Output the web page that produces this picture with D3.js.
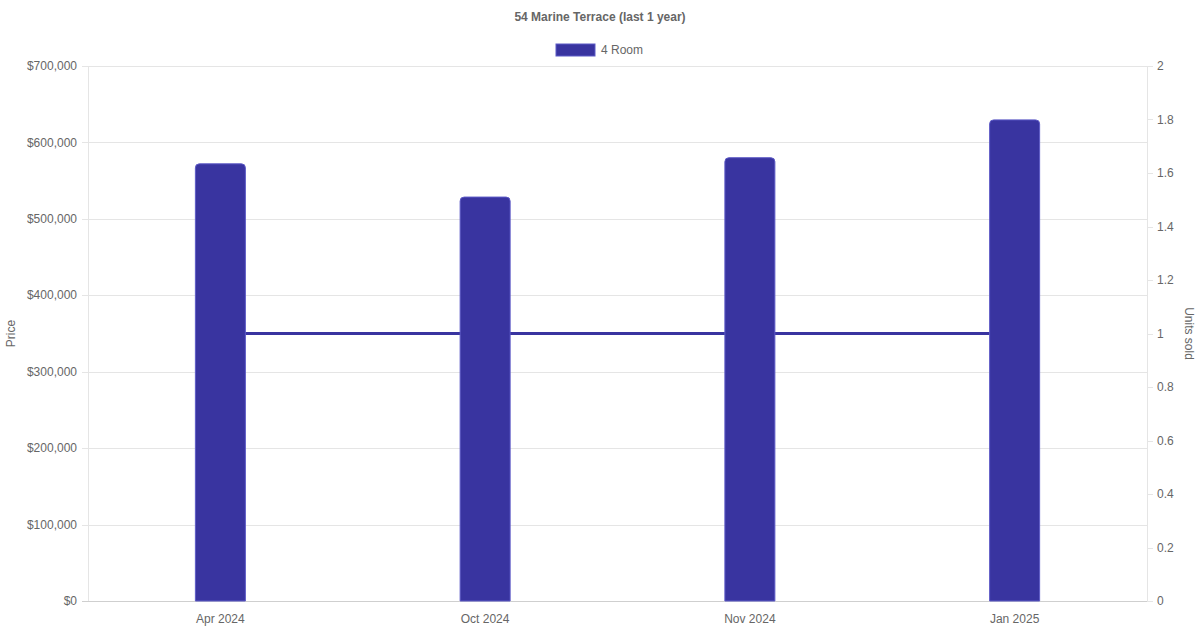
<!DOCTYPE html>
<html><head><meta charset="utf-8">
<script src="https://cdn.jsdelivr.net/npm/d3@7"></script>
<style>body{margin:0;background:#fff}svg{display:block;font-family:"Liberation Sans",Arial,Helvetica,sans-serif}</style>
</head><body><svg id="c" width="1200" height="630"></svg>
<script>
const categories = ["Apr 2024","Oct 2024","Nov 2024","Jan 2025"];
const prices = [572000, 528500, 580000, 629500];
const unitsSold = [1, 1, 1, 1];
const priceTicks = [0,100000,200000,300000,400000,500000,600000,700000];
const unitTicks = [0,0.2,0.4,0.6,0.8,1,1.2,1.4,1.6,1.8,2];
const seriesName = "4 Room";
const title = "54 Marine Terrace (last 1 year)";

const W=1200,H=630, L=88, R=1147, T=66, B=601;
const fill="#3934a0", edge="#5d5ac6", txt="#666", grid="#e5e5e5";
const svg=d3.select("#c");
const x=d3.scaleBand().domain(categories).range([L,R]).paddingInner(0).paddingOuter(0);
const yL=d3.scaleLinear().domain([0,700000]).range([B,T]);
const yR=d3.scaleLinear().domain([0,2]).range([B,T]);
const fmt=v=>"$"+d3.format(",")(v);

// grid
svg.append("g").selectAll("line").data(priceTicks).join("line")
  .attr("x1",L-6).attr("x2",R).attr("y1",d=>Math.round(yL(d))+0.5).attr("y2",d=>Math.round(yL(d))+0.5)
  .attr("stroke",d=>d===0?"#cfcfcf":grid).attr("stroke-width",1);
// left/right borders
svg.append("line").attr("x1",L+0.5).attr("x2",L+0.5).attr("y1",T).attr("y2",B).attr("stroke",grid);
svg.append("line").attr("x1",R+0.5).attr("x2",R+0.5).attr("y1",T).attr("y2",B).attr("stroke",grid);
// right ticks
svg.append("g").selectAll("line").data(unitTicks).join("line")
  .attr("x1",R).attr("x2",R+6).attr("y1",d=>Math.round(yR(d))+0.5).attr("y2",d=>Math.round(yR(d))+0.5)
  .attr("stroke",grid);

// left labels
svg.append("g").selectAll("text").data(priceTicks).join("text")
  .attr("x",L-11).attr("y",d=>yL(d)).attr("dy","0.35em").attr("text-anchor","end")
  .attr("font-size",12).attr("fill",txt).text(fmt);
// right labels
svg.append("g").selectAll("text").data(unitTicks).join("text")
  .attr("x",R+10).attr("y",d=>yR(d)).attr("dy","0.35em").attr("text-anchor","start")
  .attr("font-size",12).attr("fill",txt).text(d=>d3.format("~g")(d));
// x labels
svg.append("g").selectAll("text").data(categories).join("text")
  .attr("x",d=>x(d)+x.bandwidth()/2).attr("y",B+18).attr("dy","0.35em").attr("text-anchor","middle")
  .attr("font-size",12).attr("fill",txt).text(d=>d);

// axis titles
svg.append("text").attr("transform",`translate(11,${(T+B)/2}) rotate(-90)`).attr("text-anchor","middle")
  .attr("dy","0.35em").attr("font-size",12).attr("fill",txt).text("Price");
svg.append("text").attr("transform",`translate(1189,${(T+B)/2}) rotate(90)`).attr("text-anchor","middle")
  .attr("dy","0.35em").attr("font-size",12).attr("fill",txt).text("Units sold");

// title
svg.append("text").attr("x",W/2).attr("y",17).attr("dy","0.35em").attr("text-anchor","middle")
  .attr("font-size",12).attr("font-weight","bold").attr("fill",txt).text(title);
// legend
svg.append("rect").attr("x",556).attr("y",44).attr("width",39).attr("height",12).attr("fill",fill).attr("stroke",edge).attr("stroke-width",1);
svg.append("text").attr("x",601).attr("y",50).attr("dy","0.35em").attr("font-size",12).attr("fill",txt).text(seriesName);

// line (units)
const line=d3.line().x((d,i)=>x(categories[i])+x.bandwidth()/2).y(d=>yR(d));
svg.append("path").datum(unitsSold).attr("d",line).attr("fill","none").attr("stroke",fill).attr("stroke-width",3);

// bars
const bw=50, r=4;
function barPath(cx,top,bot){
  const x0=cx-bw/2,x1=cx+bw/2;
  return `M${x0},${bot}L${x0},${top+r}Q${x0},${top} ${x0+r},${top}L${x1-r},${top}Q${x1},${top} ${x1},${top+r}L${x1},${bot}Z`;
}
svg.append("g").selectAll("path").data(prices).join("path")
  .attr("d",(d,i)=>barPath(x(categories[i])+x.bandwidth()/2,yL(d),B))
  .attr("fill",fill).attr("stroke",edge).attr("stroke-width",1);
</script></body></html>
